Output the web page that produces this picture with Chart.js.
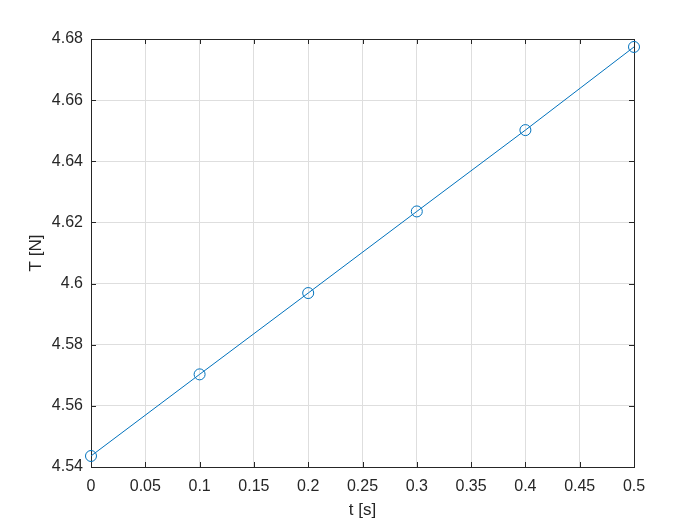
<!DOCTYPE html>
<html>
<head>
<meta charset="utf-8">
<script src="https://cdn.jsdelivr.net/npm/chart.js@4"></script>
<style>
  html, body { margin: 0; padding: 0; background: #fff; }
  #wrap { width: 700px; height: 525px; }
</style>
</head>
<body>
<div id="wrap"><canvas id="chart" width="700" height="525"></canvas></div>
<script>
// values
const times = [0, 0.1, 0.2, 0.3, 0.4, 0.5];
const tension = [4.5436, 4.5703, 4.5969, 4.6236, 4.6502, 4.6774];
const xTicks = [0, 0.05, 0.1, 0.15, 0.2, 0.25, 0.3, 0.35, 0.4, 0.45, 0.5];
const yTicks = [4.54, 4.56, 4.58, 4.6, 4.62, 4.64, 4.66, 4.68];

const axisColor = '#262626';
const lineColor = '#0072BD';

// MATLAB-style box with inward ticks on all four sides
const boxTicks = {
    id: 'boxTicks',
    beforeDatasetsDraw(chart) {
        const { ctx, chartArea: a, scales } = chart;
        const len = 5;
        ctx.save();
        ctx.strokeStyle = axisColor;
        ctx.lineWidth = 1;
        ctx.beginPath();
        scales.x.ticks.forEach(t => {
            const px = Math.round(scales.x.getPixelForValue(t.value)) + 0.5;
            ctx.moveTo(px, a.bottom); ctx.lineTo(px, a.bottom - len);
            ctx.moveTo(px, a.top); ctx.lineTo(px, a.top + len);
        });
        scales.y.ticks.forEach(t => {
            const py = Math.round(scales.y.getPixelForValue(t.value)) + 0.5;
            ctx.moveTo(a.left, py); ctx.lineTo(a.left + len, py);
            ctx.moveTo(a.right, py); ctx.lineTo(a.right - len, py);
        });
        ctx.stroke();
        ctx.strokeRect(Math.round(a.left) + 0.5, Math.round(a.top) + 0.5,
            Math.round(a.right - a.left), Math.round(a.bottom - a.top));
        ctx.restore();
    }
};

const tickFont = { family: "'Liberation Sans', Arial, sans-serif", size: 16 };
const titleFont = { family: "'Liberation Sans', Arial, sans-serif", size: 17 };

new Chart(document.getElementById('chart').getContext('2d'), {
    type: 'scatter',
    data: {
        datasets: [{
            data: times.map((t, i) => ({ x: t, y: tension[i] })),
            showLine: true,
            clip: false,
            borderColor: lineColor,
            borderWidth: 1,
            backgroundColor: 'transparent',
            pointStyle: 'circle',
            pointRadius: 5.5,
            pointBorderWidth: 1,
            pointBorderColor: lineColor,
            pointBackgroundColor: 'transparent'
        }]
    },
    options: {
        responsive: false,
        animation: false,
        layout: { padding: { top: 39, right: 66, left: 0, bottom: 0 } },
        plugins: { legend: { display: false }, tooltip: { enabled: false } },
        scales: {
            x: {
                type: 'linear',
                min: 0,
                max: 0.5,
                afterBuildTicks: s => { s.ticks = xTicks.map(v => ({ value: v })); },
                afterFit: s => { s.height = 58; },
                ticks: {
                    color: axisColor,
                    font: tickFont,
                    padding: 10,
                    maxRotation: 0,
                    callback: v => String(v)
                },
                grid: { color: '#dedede', drawTicks: false },
                border: { display: false },
                title: {
                    display: true,
                    text: 't [s]',
                    color: axisColor,
                    font: titleFont,
                    padding: { top: 0, bottom: 4 }
                }
            },
            y: {
                type: 'linear',
                min: 4.54,
                max: 4.68,
                afterBuildTicks: s => { s.ticks = yTicks.map(v => ({ value: v })); },
                afterFit: s => { s.width = 91; },
                ticks: {
                    color: axisColor,
                    font: tickFont,
                    padding: 8,
                    callback: v => String(v)
                },
                grid: { color: '#dedede', drawTicks: false },
                border: { display: false },
                title: {
                    display: true,
                    text: 'T [N]',
                    color: axisColor,
                    font: titleFont,
                    padding: { top: 26, bottom: 0 }
                }
            }
        }
    },
    plugins: [boxTicks]
});
</script>
</body>
</html>
